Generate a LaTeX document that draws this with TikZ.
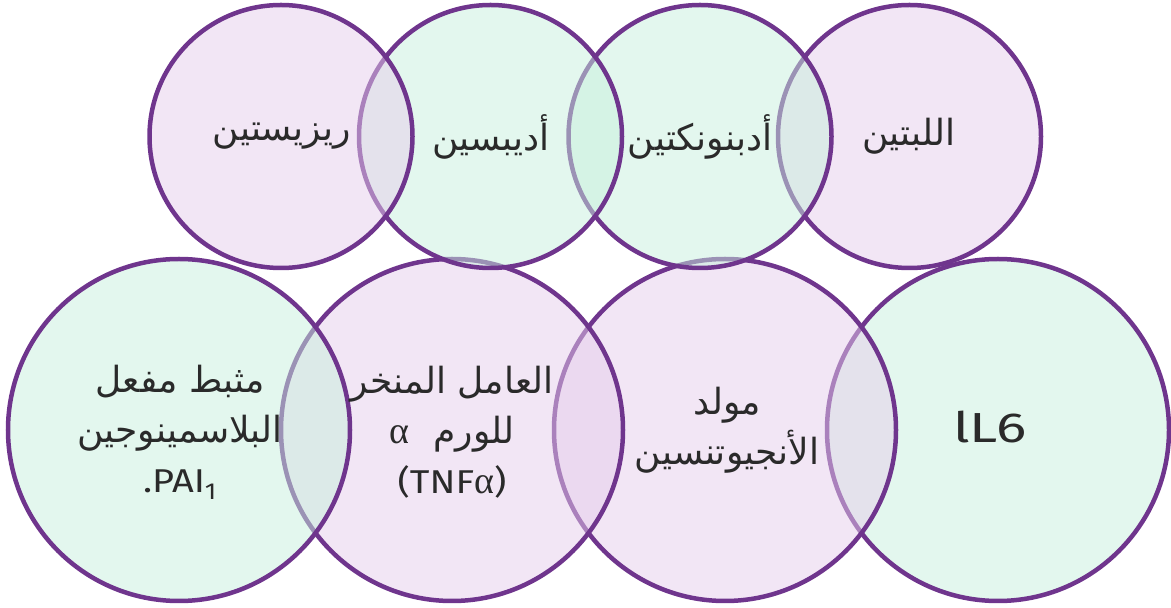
\documentclass[tikz,border=0pt]{standalone}
\usepackage{fontspec}
\TeXXeTstate=1
\newfontfamily\arabicfont[Script=Arabic]{DejaVu Sans}
\newfontfamily\latinfont[FakeStretch=1.15]{Fira Sans}
\newfontfamily\widelatin[FakeStretch=1.35]{Fira Sans}
\newfontfamily\greekfont{Liberation Serif}
\definecolor{ringline}{RGB}{111,53,141}
\definecolor{lilac}{RGB}{229,205,235}
\definecolor{mint}{RGB}{199,239,221}
\definecolor{ink}{RGB}{42,42,42}
\newcommand{\galpha}{{\greekfont\fontsize{38}{50}\selectfont α}}
\tikzset{
  ring/.style={circle, draw=ringline, line width=4.5pt, fill opacity=0.5,
               inner sep=0pt, outer sep=0pt},
  smallring/.style={ring, minimum size=263pt},
  bigring/.style={ring, minimum size=342pt},
  lbl/.style={text=ink, align=center, inner sep=0pt,
              font=\arabicfont\fontsize{36}{50}\selectfont},
}
\begin{document}
\begin{tikzpicture}[x=1pt,y=1pt]
\useasboundingbox (0,0) rectangle (1171,608);
% lower row, drawn right to left so each ring lies over its right neighbour
\node[bigring, fill=mint]  (il) at (998,178) {};
\node[bigring, fill=lilac] (ang) at (725,178) {};
\node[bigring, fill=lilac] (tnf) at (452,178) {};
\node[bigring, fill=mint]  (pai) at (179,178) {};
% upper row, over the lower one
\node[smallring, fill=lilac] (lep) at (909.5,471.5) {};
\node[smallring, fill=mint]  (adipo) at (700,471.5) {};
\node[smallring, fill=mint]  (adips) at (490.5,471.5) {};
\node[smallring, fill=lilac] (res) at (281,471.5) {};
% labels
\node[lbl] (tres) at (282,471.5) {\beginR ريزيستين\endR};
\node[lbl] (tadips) at (491,471.5) {\beginR أديبسين\endR};
\node[lbl] (tadipo) at (700,471.5) {\beginR أدبنونكتين\endR};
\node[lbl] (tlep) at (909,471.5) {\beginR اللبتين\endR};
\node[lbl] (tpai) at (180,176) {\beginR مثبط مفعل\endR\\
  \beginR البلاسمينوجين\endR\\
  {\latinfont\fontsize{33}{50}\selectfont .PAI\textsubscript{1}}};
\node[lbl] (ttnf) at (452,176) {\beginR العامل المنخر\endR\\
  {\galpha\hspace{24pt}\beginR للورم\endR}\\
  {\latinfont\fontsize{33}{50}\selectfont (TNF\galpha)}};
\node[lbl] (tang) at (727,178) {\beginR مولد\endR\\ \beginR الأنجيوتنسين\endR};
\node[lbl, font=\widelatin\fontsize{42}{44}\selectfont] (til) at (990,181) {lL6};
\end{tikzpicture}
\end{document}
